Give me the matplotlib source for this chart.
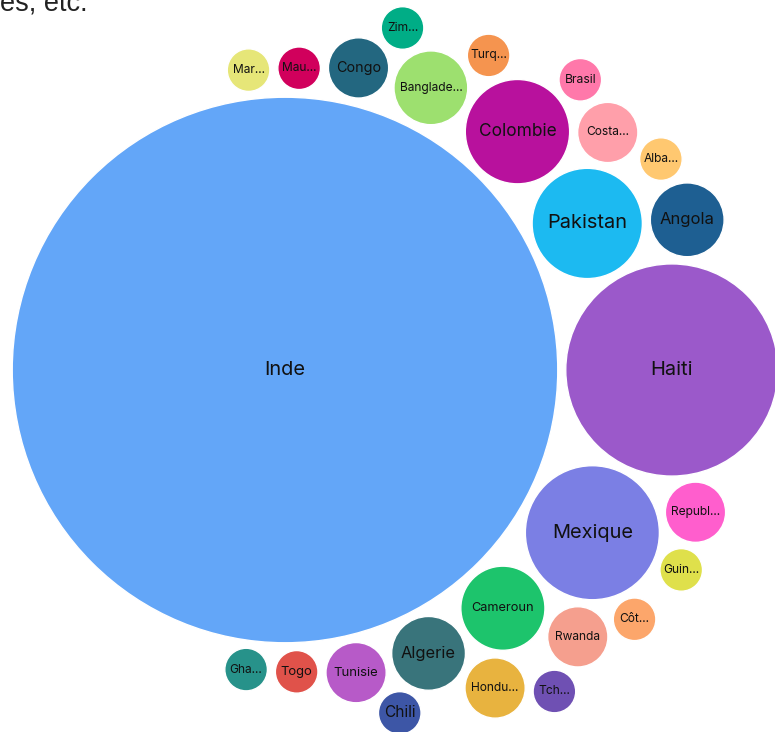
import numpy as np
import matplotlib.pyplot as plt
from matplotlib.patches import Circle

plt.rcParams['font.family'] = ['Inter', 'DejaVu Sans']

## donnees : pays et effectifs

pays = ['Inde', 'Haiti', 'Pakistan', 'Colombie', 'Bangladesh', 'Congo', 'Maurice', 'Maroc',
        'Mexique', 'Cameroun', 'Algerie', 'Tunisie', 'Togo', 'Ghana',
        'Angola', 'Costa Rica', 'Albanie', 'Brasil', 'Turquie', 'Zimbabwe',
        'Republique dominicaine', 'Guinee', 'Rwanda', "Côte d'Ivoire",
        'Honduras', 'Tchad', 'Chili']

# texte affiché dans chaque bulle (tronqué comme sur l'original)
etiquettes = ['Inde', 'Haiti', 'Pakistan', 'Colombie', 'Banglade…', 'Congo', 'Mau…', 'Mar…',
              'Mexique', 'Cameroun', 'Algerie', 'Tunisie', 'Togo', 'Gha…',
              'Angola', 'Costa…', 'Alba…', 'Brasil', 'Turq…', 'Zim…',
              'Republ…', 'Guin…', 'Rwanda', 'Côt…',
              'Hondu…', 'Tch…', 'Chili']

effectifs = [1640, 248, 67, 60, 30, 20, 10, 10,
             99, 39, 30, 20, 10, 10,
             30, 20, 10, 10, 10, 10,
             20, 10, 20, 10,
             20, 10, 10]

couleurs = ['#63a6f8', '#9b59ca', '#1cbaf1', '#b8119d', '#9de06f', '#236780', '#d1005c', '#e6e678',
            '#7b7fe4', '#1dc46c', '#39747b', '#b75ac8', '#e0524a', '#27928a',
            '#1e5f92', '#ff9faa', '#ffc870', '#ff78aa', '#f5944f', '#00ad86',
            '#ff5ecd', '#dfe04b', '#f59f8e', '#fca66b',
            '#e8b33f', '#6f50b3', '#3d56a6']

## mise en page : chaines autour de Inde + bulles exterieures

chaine_haut = ['Haiti', 'Pakistan', 'Colombie', 'Bangladesh', 'Congo', 'Maurice', 'Maroc']
chaine_bas = ['Haiti', 'Mexique', 'Cameroun', 'Algerie', 'Tunisie', 'Togo', 'Ghana']
exterieur = [('Angola', 'Pakistan', 'Haiti'), ('Costa Rica', 'Colombie', 'Pakistan'),
             ('Albanie', 'Costa Rica', 'Angola'), ('Brasil', 'Colombie', 'Costa Rica'),
             ('Turquie', 'Bangladesh', 'Colombie'), ('Zimbabwe', 'Congo', 'Bangladesh'),
             ('Republique dominicaine', 'Haiti', 'Mexique'),
             ('Guinee', 'Mexique', 'Republique dominicaine'),
             ('Rwanda', 'Mexique', 'Cameroun'), ("Côte d'Ivoire", 'Rwanda', 'Mexique'),
             ('Honduras', 'Cameroun', 'Algerie'), ('Tchad', 'Honduras', 'Rwanda'),
             ('Chili', 'Algerie', 'Tunisie')]

ecart = 8.0  # espace entre bulles (px)
rayon = {p: 21.3 * np.sqrt(v / 10) for p, v in zip(pays, effectifs)}
centre = {'Inde': np.array([0.0, 0.0])}
centre['Haiti'] = np.array([rayon['Inde'] + rayon['Haiti'] + ecart, 0.0])


def tangente(a, b, r, sens):
    # position d'une bulle de rayon r qui touche a et b
    ca, cb = centre[a], centre[b]
    d1 = rayon[a] + r + ecart
    d2 = rayon[b] + r + ecart
    v = cb - ca
    L = np.hypot(*v)
    k = (d1**2 - d2**2 + L**2) / (2 * L)
    h = np.sqrt(max(d1**2 - k**2, 0))
    perp = np.array([-v[1], v[0]]) / L
    return ca + k * v / L + sens * h * perp


for prev, p in zip(chaine_haut[:-1], chaine_haut[1:]):
    centre[p] = tangente('Inde', prev, rayon[p], 1)
for prev, p in zip(chaine_bas[:-1], chaine_bas[1:]):
    centre[p] = tangente('Inde', prev, rayon[p], -1)
for p, a, b in exterieur:
    c1 = tangente(a, b, rayon[p], 1)
    c2 = tangente(a, b, rayon[p], -1)
    centre[p] = c1 if np.hypot(*c1) > np.hypot(*c2) else c2

## dessin

fig = plt.figure(figsize=(7.75, 7.32), dpi=100)
ax = fig.add_axes([0, 0, 1, 1])
ax.set_xlim(-285, 490)
ax.set_ylim(-362, 370)
ax.set_aspect('equal')
ax.axis('off')

renderer = fig.canvas.get_renderer()
px = 0.72  # 1 px en points (dpi 100)

for p, lab, col in zip(pays, etiquettes, couleurs):
    c, r = centre[p], rayon[p]
    ax.add_patch(Circle(c, r, facecolor=col, edgecolor='white', lw=1))
    # taille de police : on fait tenir le nom complet dans ~75% du diametre
    t = ax.text(0, 0, p, fontsize=10)
    w = t.get_window_extent(renderer).width
    t.remove()
    fs = 10 * 0.75 * 2 * r / w
    fs = min(max(fs, 12 * px), 20 * px)
    ax.text(c[0], c[1], lab, fontsize=fs, ha='center', va='center', color='#111111')

fig.text(0.0, 1 - 11 / 732, 'es, etc.', fontsize=19.5, family='Liberation Sans',
         va='baseline', ha='left', color='#222222')

plt.savefig('out.png', dpi=100)
